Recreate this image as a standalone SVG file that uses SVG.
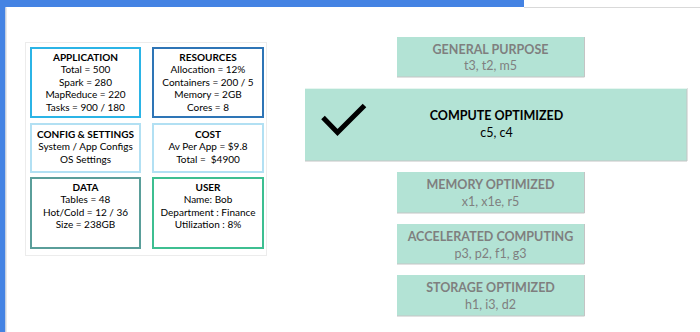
<svg xmlns="http://www.w3.org/2000/svg" width="700" height="332" viewBox="0 0 700 332">
<style>
.t{font-family:Lato,"Liberation Sans",sans-serif;font-size:10px;fill:#000;text-anchor:middle}
.b{font-weight:bold}
.box{fill:#fff;stroke-width:2}
.cat{fill:#b3e3d5}
.edge{stroke:#c4c4c4;stroke-width:1;fill:none}
.ct{font-family:Lato,"Liberation Sans",sans-serif;font-size:12.5px;fill:#7f7f7f;text-anchor:middle}
.sel{fill:#000}
</style>
<rect width="700" height="332" fill="#fff"/>
<rect x="0" y="0" width="524" height="7" fill="#4483e3"/>
<rect x="0" y="0" width="5.5" height="332" fill="#4483e3"/>
<path d="M524 7.5H700 M6 7.5V332" stroke="#d9d9d9" stroke-width="1.2" fill="none"/>
<rect x="25.5" y="42.5" width="241" height="213" fill="#fff" stroke="#ececec" stroke-width="1"/>

<g id="application">
<rect class="box" x="31" y="48" width="109" height="69" stroke="#2bb4e6"/>
<text class="t b" x="85.5" y="60.5">APPLICATION</text>
<text class="t" x="85.5" y="73">Total = 500</text>
<text class="t" x="85.5" y="85.5">Spark = 280</text>
<text class="t" x="85.5" y="98">MapReduce = 220</text>
<text class="t" x="85.5" y="110.5">Tasks = 900 / 180</text>
</g>
<g id="resources">
<rect class="box" x="153" y="48" width="110" height="69" stroke="#2e75b6"/>
<text class="t b" x="208" y="60.5">RESOURCES</text>
<text class="t" x="208" y="73">Allocation = 12%</text>
<text class="t" x="208" y="85.5">Containers = 200 / 5</text>
<text class="t" x="208" y="98">Memory = 2GB</text>
<text class="t" x="208" y="110.5">Cores = 8</text>
</g>
<g id="config">
<rect class="box" x="31" y="124" width="109" height="48" stroke="#b2e0f3"/>
<text class="t b" x="85.5" y="137.5">CONFIG &amp; SETTINGS</text>
<text class="t" x="85.5" y="150">System / App Configs</text>
<text class="t" x="85.5" y="162.5">OS Settings</text>
</g>
<g id="cost">
<rect class="box" x="153" y="124" width="110" height="48" stroke="#b2e0f3"/>
<text class="t b" x="208" y="137.5">COST</text>
<text class="t" x="208" y="150">Av Per App = $9.8</text>
<text class="t" x="208" y="162.5">Total =&#160; $4900</text>
</g>
<g id="data">
<rect class="box" x="31" y="178" width="109" height="70" stroke="#5a9e9a"/>
<text class="t b" x="85.5" y="190.5">DATA</text>
<text class="t" x="85.5" y="203">Tables = 48</text>
<text class="t" x="85.5" y="215.5">Hot/Cold = 12 / 36</text>
<text class="t" x="85.5" y="228">Size = 238GB</text>
</g>
<g id="user">
<rect class="box" x="153" y="178" width="110" height="70" stroke="#3dbf91"/>
<text class="t b" x="208" y="190.5">USER</text>
<text class="t" x="208" y="203">Name: Bob</text>
<text class="t" x="208" y="215.5">Department : Finance</text>
<text class="t" x="208" y="228">Utilization : 8%</text>
</g>

<g id="general-purpose">
<rect class="cat" x="397" y="37" width="187" height="40"/>
<path class="edge" d="M397 77H584.5V37"/>
<text class="ct b" x="490.5" y="53.5">GENERAL PURPOSE</text>
<text class="ct" x="490.5" y="70">t3, t2, m5</text>
</g>
<g id="compute-optimized">
<rect class="cat" x="305" y="88" width="382" height="73"/>
<path class="edge" d="M305 161H687V88"/>
<path d="M305 88.5H687" stroke="#e6f6f0" stroke-width="1"/>
<path d="M323 117.5L337.5 132.5L364.5 105.5" fill="none" stroke="#000" stroke-width="5"/>
<text class="ct b sel" x="496.5" y="120">COMPUTE OPTIMIZED</text>
<text class="ct sel" x="496.5" y="136.5">c5, c4</text>
</g>
<g id="memory-optimized">
<rect class="cat" x="397" y="172" width="187" height="41"/>
<path class="edge" d="M397 213H584.5V172"/>
<text class="ct b" x="490.5" y="189">MEMORY OPTIMIZED</text>
<text class="ct" x="490.5" y="206">x1, x1e, r5</text>
</g>
<g id="accelerated-computing">
<rect class="cat" x="397" y="224" width="187" height="40"/>
<path class="edge" d="M397 264H584.5V224"/>
<text class="ct b" x="490.5" y="241">ACCELERATED COMPUTING</text>
<text class="ct" x="490.5" y="257.5">p3, p2, f1, g3</text>
</g>
<g id="storage-optimized">
<rect class="cat" x="397" y="275" width="187" height="41"/>
<path class="edge" d="M397 316H584.5V275"/>
<text class="ct b" x="490.5" y="291.5">STORAGE OPTIMIZED</text>
<text class="ct" x="490.5" y="309">h1, i3, d2</text>
</g>
<g id="connectors"/>
</svg>
